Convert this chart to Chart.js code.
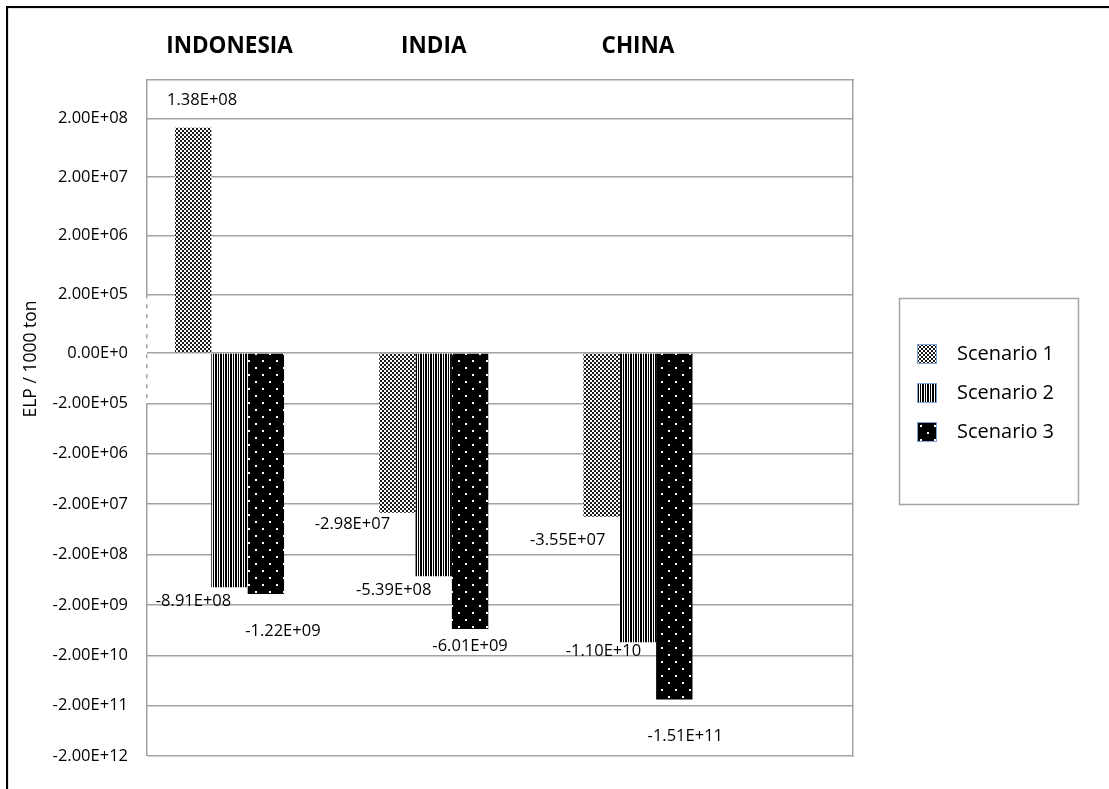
<!DOCTYPE html>
<html>
<head>
<meta charset="utf-8">
<title>ELP by country and scenario</title>
<script src="https://cdn.jsdelivr.net/npm/chart.js@4.4.1/dist/chart.umd.min.js"></script>
<style>
  html, body { margin: 0; padding: 0; background: #fff; overflow: hidden; }
  #wrap { position: relative; width: 1109px; height: 789px; overflow: hidden; }
  #chart { position: absolute; left: 0; top: 0; }
  #frame {
    position: absolute; left: 6px; top: 6px; width: 1200px; height: 900px;
    border-left: 2px solid #000; border-top: 2px solid #000;
    box-shadow: inset 1px 1px 0 #e4e4e4; pointer-events: none;
  }
</style>
</head>
<body>
<div id="wrap">
  <canvas id="chart" width="1109" height="789"></canvas>
  <div id="frame"></div>
</div>
<script>
// ---- data ----
const countries = ['INDONESIA', 'INDIA', 'CHINA'];
const scenarioNames = ['Scenario 1', 'Scenario 2', 'Scenario 3'];
const scenario1 = [1.38e8, -2.98e7, -3.55e7];
const scenario2 = [-8.91e8, -5.39e8, -1.10e10];
const scenario3 = [-1.22e9, -6.01e9, -1.51e11];
const yTickValues = [2e8, 2e7, 2e6, 2e5, 0, -2e5, -2e6, -2e7, -2e8, -2e9, -2e10, -2e11, -2e12];
const yTickLabels = ['2.00E+08', '2.00E+07', '2.00E+06', '2.00E+05', '0.00E+0', '-2.00E+05', '-2.00E+06',
                     '-2.00E+07', '-2.00E+08', '-2.00E+09', '-2.00E+10', '-2.00E+11', '-2.00E+12'];
const yAxisTitle = 'ELP / 1000 ton';

// ---- styling ----
const FONT = '"Open Sans", Lato, sans-serif';
const GRID = '#a2a2a2';
const LEGEND_FONT = 20;
const LEGEND_PAD = 19;
const SWATCH_W = 30;

Chart.defaults.font.family = FONT;
Chart.defaults.color = '#000';

// Scientific label such as 1.38E+08
function sci(v) {
  const [m, e] = v.toExponential(2).split('e');
  const sign = e[0] === '-' ? '-' : '+';
  return m + 'E' + sign + e.replace(/^[+-]/, '').padStart(2, '0');
}

// Signed logarithmic axis: linear inside +/-linearLimit, one decade per unit beyond it.
class SignedLogScale extends Chart.Scale {
  determineDataLimits() {
    this.min = this.options.min;
    this.max = this.options.max;
  }
  buildTicks() {
    return this.options.tickValues.map(value => ({ value }));
  }
  toUnits(v) {
    const lim = this.options.linearLimit;
    const a = Math.abs(v);
    const u = a <= lim ? a / lim : 1 + Math.log10(a / lim);
    return v < 0 ? -u : u * this.options.positiveStretch;
  }
  fromUnits(u) {
    const lim = this.options.linearLimit;
    const a = u < 0 ? -u : u / this.options.positiveStretch;
    const v = a <= 1 ? a * lim : lim * Math.pow(10, a - 1);
    return u < 0 ? -v : v;
  }
  getPixelForValue(v) {
    const lo = this.toUnits(this.min), hi = this.toUnits(this.max);
    return this.getPixelForDecimal((this.toUnits(v) - lo) / (hi - lo));
  }
  getValueForPixel(p) {
    const lo = this.toUnits(this.min), hi = this.toUnits(this.max);
    return this.fromUnits(lo + this.getDecimalForPixel(p) * (hi - lo));
  }
  getLabelForValue(v) {
    return sci(v);
  }
}
SignedLogScale.id = 'signedLog';
SignedLogScale.defaults = {};
Chart.register(SignedLogScale);

// ---- fill patterns ----
function tile(w, h, paint) {
  const c = document.createElement('canvas');
  c.width = w; c.height = h;
  paint(c.getContext('2d'));
  return c;
}
const tiles = [
  // small checker
  tile(4, 4, g => {
    g.fillStyle = '#fff'; g.fillRect(0, 0, 4, 4);
    g.fillStyle = '#1a1a1a'; g.fillRect(0, 0, 2, 2); g.fillRect(2, 2, 2, 2);
  }),
  // vertical stripes
  tile(5, 1, g => {
    g.fillStyle = '#fff'; g.fillRect(0, 0, 5, 1);
    g.fillStyle = '#000'; g.fillRect(0, 0, 2, 1); g.fillRect(3, 0, 1, 1);
  }),
  // black with staggered white dots
  tile(14, 14, g => {
    g.fillStyle = '#000'; g.fillRect(0, 0, 14, 14);
    g.fillStyle = '#fff'; g.fillRect(3, 3, 2, 2); g.fillRect(10, 10, 2, 2);
  })
];
const ctx = document.getElementById('chart').getContext('2d');
const patterns = tiles.map(t => ctx.createPattern(t, 'repeat'));

// legend keys: patterned square with a thin blue edge
const swatches = tiles.map(t => {
  const c = document.createElement('canvas');
  c.width = SWATCH_W; c.height = 20;
  const g = c.getContext('2d');
  g.fillStyle = g.createPattern(t, 'repeat');
  g.fillRect(0, 0, 20, 20);
  g.strokeStyle = '#7fa3d3'; g.lineWidth = 1;
  g.strokeRect(0.5, 0.5, 19, 19);
  return c;
});

// room to the right of the legend so the legend starts at a fixed x
const measure = document.createElement('canvas').getContext('2d');
measure.font = LEGEND_FONT + 'px ' + FONT;
const legendTextW = Math.max(...scenarioNames.map(n => measure.measureText(n).width));
const legendW = LEGEND_PAD + SWATCH_W + LEGEND_FONT / 2 + legendTextW + 10;
const padRight = 1109 - 898 - legendW;

// ---- plugins ----
const splitAxisLine = {
  id: 'splitAxisLine',
  beforeDatasetsDraw(chart, args, opts) {
    const s = chart.scales.y;
    const { ctx, chartArea } = chart;
    const x = Math.round(chartArea.left - opts.width / 2) + opts.width / 2;
    const yHi = s.getPixelForValue(s.options.linearLimit);
    const yLo = s.getPixelForValue(-s.options.linearLimit);
    ctx.save();
    ctx.strokeStyle = opts.color;
    ctx.lineWidth = opts.width;
    const seg = (a, b, dash) => {
      ctx.setLineDash(dash);
      ctx.beginPath(); ctx.moveTo(x, a); ctx.lineTo(x, b); ctx.stroke();
    };
    seg(chartArea.top, yHi, []);
    seg(yHi, yLo, opts.dash);
    seg(yLo, chartArea.bottom, []);
    ctx.restore();
  }
};

const valueLabels = {
  id: 'valueLabels',
  afterDatasetsDraw(chart, args, opts) {
    const { ctx } = chart;
    ctx.save();
    ctx.font = opts.size + 'px ' + FONT;
    ctx.fillStyle = '#000';
    ctx.textAlign = 'center';
    ctx.textBaseline = 'middle';
    chart.data.datasets.forEach((ds, di) => {
      chart.getDatasetMeta(di).data.forEach((bar, i) => {
        const [dx, dy] = opts.nudge[di][i];
        ctx.fillText(sci(ds.data[i].y), bar.x + dx, bar.y + dy);
      });
    });
    ctx.restore();
  }
};

const yTitle = {
  id: 'yTitle',
  afterDraw(chart, args, opts) {
    const { ctx } = chart;
    const y = chart.scales.y.getPixelForValue(0) + opts.shift;
    ctx.save();
    ctx.translate(opts.x, y);
    ctx.rotate(-Math.PI / 2);
    ctx.font = opts.size + 'px ' + FONT;
    ctx.fillStyle = '#000';
    ctx.textAlign = 'center';
    ctx.textBaseline = 'middle';
    ctx.fillText(opts.text, 0, 0);
    ctx.restore();
  }
};

const legendFrame = {
  id: 'legendFrame',
  afterDraw(chart, args, opts) {
    const hb = chart.legend && chart.legend.legendHitBoxes;
    if (!hb || !hb.length) return;
    const { ctx } = chart;
    const l = Math.min(...hb.map(b => b.left)) - opts.left;
    const t = hb[0].top - opts.top;
    const last = hb[hb.length - 1];
    const b = last.top + last.height + opts.bottom;
    ctx.save();
    ctx.strokeStyle = opts.color;
    ctx.lineWidth = opts.lineWidth;
    ctx.strokeRect(Math.round(l) + 0.5, Math.round(t) + 0.5, opts.width, Math.round(b - t));
    ctx.restore();
  }
};

// ---- chart ----
const seriesValues = [scenario1, scenario2, scenario3];

new Chart(ctx, {
  type: 'bar',
  data: {
    datasets: seriesValues.map((vals, k) => ({
      label: scenarioNames[k],
      data: vals.map((y, i) => ({ x: i, y })),
      backgroundColor: patterns[k],
      borderWidth: 0
    }))
  },
  options: {
    responsive: false,
    animation: false,
    devicePixelRatio: 1,
    events: [],
    layout: { padding: { top: 30, bottom: 33, left: 10, right: padRight } },
    datasets: { bar: { categoryPercentage: 0.534, barPercentage: 1 } },
    scales: {
      x: {
        type: 'linear',
        position: 'top',
        offset: false,
        bounds: 'data',
        min: -0.404,
        max: 3.053,
        afterBuildTicks: s => { s.ticks = countries.map((_, i) => ({ value: i })); },
        afterFit: s => { s.height = 50; },
        ticks: {
          callback: v => countries[v],
          font: { size: 22.5, weight: 'bold' },
          color: '#000',
          padding: 12,
          maxRotation: 0,
          autoSkip: false
        },
        grid: { display: false },
        border: { display: true, color: GRID, width: 1.5 }
      },
      y: {
        type: 'signedLog',
        position: 'left',
        min: -2e12,
        max: 9e8,
        linearLimit: 2e5,
        positiveStretch: 1.1647,
        tickValues: yTickValues,
        afterFit: s => { s.width = 137; },
        ticks: {
          callback: (v, i) => yTickLabels[i],
          font: { size: 16.5 },
          color: '#000',
          padding: 19,
          autoSkip: false
        },
        grid: { color: GRID, lineWidth: 1.5, drawTicks: false },
        border: { display: false }
      },
      y2: {
        type: 'linear',
        position: 'right',
        afterFit: s => { s.width = 45; },
        ticks: { display: false },
        grid: { display: false },
        border: { display: true, color: GRID, width: 1.5 }
      }
    },
    plugins: {
      tooltip: { enabled: false },
      legend: {
        position: 'right',
        align: 'center',
        labels: {
          usePointStyle: true,
          pointStyleWidth: SWATCH_W,
          boxHeight: 20,
          padding: LEGEND_PAD,
          color: '#000',
          font: { size: LEGEND_FONT },
          generateLabels(chart) {
            const items = Chart.defaults.plugins.legend.labels.generateLabels(chart);
            items.forEach((it, i) => { it.pointStyle = swatches[i]; it.lineWidth = 0; });
            return items;
          }
        }
      },
      splitAxisLine: { color: GRID, width: 1.5, dash: [4, 6] },
      valueLabels: {
        size: 16.5,
        nudge: [
          [[9, -27], [-45, 11], [-34, 24]],
          [[-36, 14], [-40, 14], [-34.5, 9]],
          [[17, 37], [0, 17], [11, 36.5]]
        ]
      },
      yTitle: { text: yAxisTitle, x: 31, shift: 6, size: 17.5 },
      legendFrame: { left: 18.5, top: 46, bottom: 62, width: 179, color: '#a6a6a6', lineWidth: 1.5 }
    }
  },
  plugins: [splitAxisLine, valueLabels, yTitle, legendFrame]
});
</script>
</body>
</html>
